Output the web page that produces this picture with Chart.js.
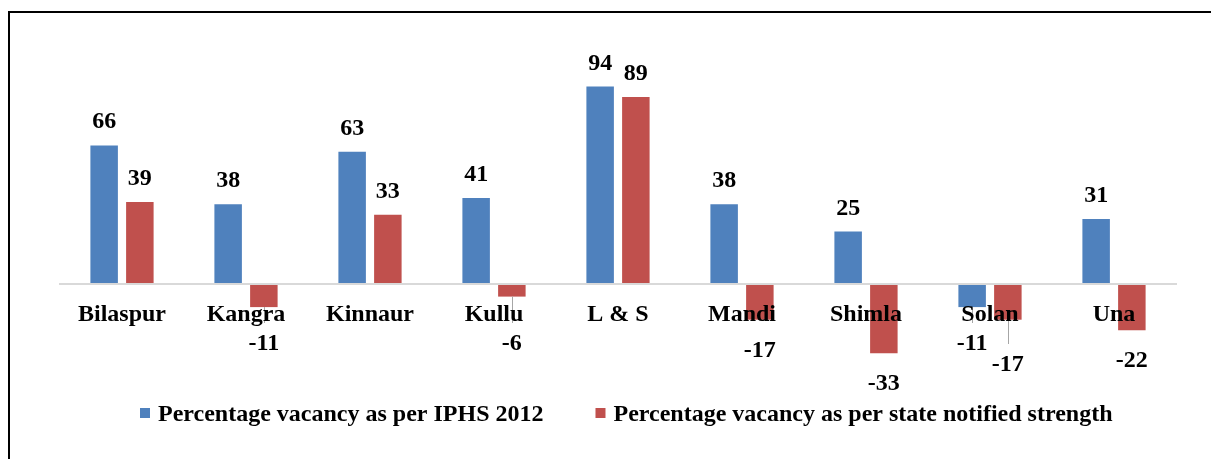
<!DOCTYPE html>
<html lang="en">
<head>
    <meta charset="UTF-8">
    <title>Percentage vacancy by district</title>
    <script src="https://cdn.jsdelivr.net/npm/chart.js"></script>
    <style>
        body {
            margin: 0;
            background: #fff;
        }
        .frame {
            position: absolute;
            left: 8px;
            top: 11px;
            width: 1300px;
            height: 500px;
            border-top: 2px solid #000;
            border-left: 2px solid #000;
        }
        #vacancyChart {
            position: absolute;
            left: 0;
            top: 0;
        }
    </style>
</head>
<body>
    <div class="frame"></div>
    <canvas id="vacancyChart" width="1211" height="459"></canvas>

    <script>
        // Districts and percentage vacancies
        const districts = ['Bilaspur', 'Kangra', 'Kinnaur', 'Kullu', 'L & S', 'Mandi', 'Shimla', 'Solan', 'Una'];
        const vacancyIphs = [66, 38, 63, 41, 94, 38, 25, -11, 31];
        const vacancyState = [39, -11, 33, -6, 89, -17, -33, -17, -22];
        const seriesNames = ['Percentage vacancy as per IPHS 2012', 'Percentage vacancy as per state notified strength'];

        const FONT = 'bold 24px "Liberation Serif", "Times New Roman", serif';

        // Works out where each value label goes, pushing a label down
        // when it would collide with its neighbour in the same category
        function labelPositions(chart) {
            const ctx = chart.ctx;
            ctx.font = FONT;
            const out = [];
            const metas = chart.data.datasets.map((d, i) => chart.getDatasetMeta(i));
            districts.forEach((name, i) => {
                let prev = null;
                metas.forEach((meta, di) => {
                    const bar = meta.data[i];
                    const v = chart.data.datasets[di].data[i];
                    const text = String(v);
                    const w = ctx.measureText(text).width;
                    let cy;
                    if (v >= 0) {
                        cy = bar.y - 25;
                    } else {
                        cy = Math.max(bar.y + 29, 342);
                        if (prev && prev.neg && Math.abs(prev.cy - cy) < 20 &&
                            bar.x - w / 2 < prev.x + prev.w / 2 + 8) {
                            cy = prev.cy + 21;
                        }
                    }
                    const item = { x: bar.x, cy, w, text, neg: v < 0, end: bar.y };
                    out.push(item);
                    prev = item;
                });
            });
            return out;
        }

        const valueLabels = {
            id: 'valueLabels',
            afterDatasetsDraw(chart) {
                // leader lines for labels moved away from their bars
                const ctx = chart.ctx;
                ctx.save();
                ctx.strokeStyle = '#A6A6A6';
                ctx.lineWidth = 1;
                labelPositions(chart).forEach(p => {
                    if (p.neg && p.cy - p.end > 31) {
                        ctx.beginPath();
                        ctx.moveTo(Math.round(p.x) + 0.5, p.end);
                        ctx.lineTo(Math.round(p.x) + 0.5, p.cy - 19);
                        ctx.stroke();
                    }
                });
                ctx.restore();
            },
            afterDraw(chart) {
                const ctx = chart.ctx;
                ctx.save();
                ctx.font = FONT;
                ctx.fillStyle = '#000';
                ctx.textAlign = 'center';
                ctx.textBaseline = 'alphabetic';
                labelPositions(chart).forEach(p => {
                    ctx.fillText(p.text, p.x, p.cy + 8);
                });

                // legend
                ctx.textAlign = 'left';
                let x = 140;
                const y = 413;
                chart.data.datasets.forEach(ds => {
                    ctx.fillStyle = ds.backgroundColor;
                    ctx.fillRect(x, y - 5, 10, 10);
                    ctx.fillStyle = '#000';
                    ctx.fillText(ds.label, x + 18, y + 8);
                    x += 18 + ctx.measureText(ds.label).width + 52;
                });
                ctx.restore();
            }
        };

        new Chart(document.getElementById('vacancyChart').getContext('2d'), {
            type: 'bar',
            data: {
                labels: districts,
                datasets: [{
                    label: seriesNames[0],
                    data: vacancyIphs,
                    backgroundColor: '#4F81BD',
                    borderWidth: 0,
                    categoryPercentage: 0.576,
                    barPercentage: 0.77
                }, {
                    label: seriesNames[1],
                    data: vacancyState,
                    backgroundColor: '#C0504D',
                    borderWidth: 0,
                    categoryPercentage: 0.576,
                    barPercentage: 0.77
                }]
            },
            options: {
                responsive: false,
                animation: false,
                devicePixelRatio: 1,
                layout: {
                    padding: { left: 60, right: 35, top: 74, bottom: 91 }
                },
                plugins: {
                    legend: { display: false },
                    tooltip: { enabled: false }
                },
                scales: {
                    x: {
                        position: { y: 0 },
                        grid: { display: false },
                        border: { display: true, color: '#D9D9D9', width: 2, z: 1 },
                        ticks: {
                            z: 1,
                            color: '#000',
                            padding: 8,
                            maxRotation: 0,
                            font: { family: '"Liberation Serif", "Times New Roman", serif', size: 24, weight: 'bold' }
                        }
                    },
                    y: {
                        display: false,
                        min: -40,
                        max: 100
                    }
                }
            },
            plugins: [valueLabels]
        });
    </script>
</body>
</html>
